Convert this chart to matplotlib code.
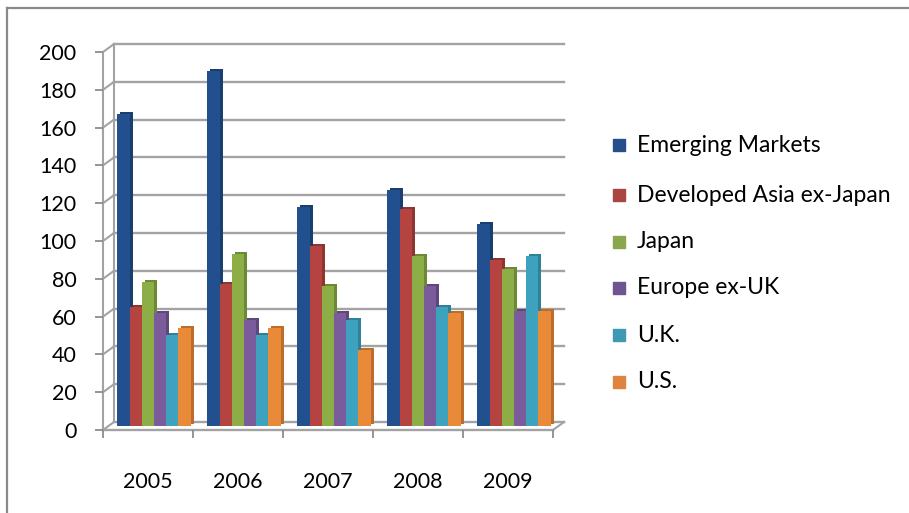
import matplotlib
matplotlib.use("Agg")
import matplotlib.pyplot as plt
from matplotlib.transforms import offset_copy
from matplotlib.patches import Rectangle
import numpy as np

years = ["2005", "2006", "2007", "2008", "2009"]
series = ["Emerging Markets", "Developed Asia ex-Japan", "Japan", "Europe ex-UK", "U.K.", "U.S."]
emerging = [165, 188, 116, 125, 107]
dev_asia = [63, 75, 95, 115, 88]
japan = [76, 91, 74, 90, 83]
europe = [60, 56, 60, 74, 61]
uk = [48, 48, 56, 63, 90]
us = [52, 52, 40, 60, 61]
values = [emerging, dev_asia, japan, europe, uk, us]
yticks = list(range(0, 201, 20))

face_colors = ["#22508F", "#B5433F", "#8DAE47", "#7A5B9B", "#3DA2BE", "#E98A38"]
side_colors = ["#1A3E70", "#8E3431", "#6C8A35", "#5F4779", "#2F8099", "#BC6D2B"]
legend_colors = ["#254E8A", "#A94643", "#8AA64E", "#705490", "#4099B3", "#DE8340"]

W, H = 909, 513
fig = plt.figure(figsize=(W / 100, H / 100), dpi=100)
plt.rcParams['font.family'] = ['Lato', 'DejaVu Sans']

x0, x1 = 103, 553
y0, y1 = 430, 52
ax = fig.add_axes([x0 / W, (H - y0) / H, (x1 - x0) / W, (y0 - y1) / H])
ax.set_xlim(-0.5, 4.5)
ax.set_ylim(0, 200)
ax.patch.set_visible(False)
for s in ax.spines.values():
    s.set_visible(False)

grid_c = "#A3A3A3"
back = offset_copy(ax.transData, fig=fig, x=11, y=8, units='dots')
# back-wall gridlines
for v in yticks:
    ax.plot([-0.5, 4.5], [v, v], color=grid_c, lw=1.7, transform=back, clip_on=False, zorder=1)
# left wall diagonals (front axis -> back wall)
dxd = 11 / ((x1 - x0) / 5.0)
dyd = 8 / ((y0 - y1) / 200.0)
for v in yticks:
    ax.plot([-0.5, -0.5 + dxd], [v, v + dyd], color=grid_c, lw=1.5, clip_on=False, zorder=1)
# back vertical edge
ax.plot([-0.5, -0.5], [0, 200], color=grid_c, lw=1.5, transform=back, clip_on=False, zorder=1)
# front vertical axis
ax.plot([-0.5, -0.5], [0, 200], color=grid_c, lw=1.5, clip_on=False, zorder=1)
# floor front edge and right diagonal
ax.plot([-0.5, 4.5], [0, 0], color=grid_c, lw=1.7, clip_on=False, zorder=1)
ax.plot([4.5, 4.5 + dxd], [0, dyd], color=grid_c, lw=1.5, clip_on=False, zorder=1)

# bars
n = len(series)
bw = 0.136
xs = np.arange(len(years))
mid = offset_copy(ax.transData, fig=fig, x=6, y=4, units='dots')
side = offset_copy(ax.transData, fig=fig, x=9, y=6, units='dots')
for i, (vals, fc, sc) in enumerate(zip(values, face_colors, side_colors)):
    pos = xs + (i - (n - 1) / 2) * bw
    ax.bar(pos, vals, width=bw, color=sc, transform=side, zorder=2 + i * 0.1, clip_on=False, linewidth=0)
for i, (vals, fc, sc) in enumerate(zip(values, face_colors, side_colors)):
    pos = xs + (i - (n - 1) / 2) * bw
    ax.bar(pos, vals, width=bw, color=fc, transform=mid, zorder=3 + i * 0.1, clip_on=False, linewidth=0,
           label=series[i])

# ticks
ax.set_yticks(yticks)
ax.set_yticklabels([str(v) for v in yticks])
ax.tick_params(axis='y', length=6, width=1.3, color="#8C8C8C", pad=13, labelsize=15.5, labelcolor="black")
ax.set_xticks(np.arange(-0.5, 5, 1.0))
ax.set_xticklabels([])
ax.set_xticks(xs, minor=True)
ax.set_xticklabels(years, minor=True)
ax.tick_params(axis='x', which='major', length=6, width=1.3, color="#8C8C8C")
ax.tick_params(axis='x', which='minor', length=0, pad=30, labelsize=15.5, labelcolor="black")

# legend (manual, figure pixels)
rows = [145, 195, 242, 288, 335, 382]
for lab, col, ry in zip(series, legend_colors, rows):
    fig.patches.append(Rectangle((613 / W, (H - ry - 6) / H), 12 / W, 12 / H,
                                 transform=fig.transFigure, color=col, figure=fig))
    fig.text(637 / W, (H - ry) / H, lab, fontsize=16.5, va='center', ha='left', color="black")

# chart border (top and left only)
fig.add_artist(plt.Line2D([7 / W, 1], [(H - 8) / H, (H - 8) / H], transform=fig.transFigure, color="#8A8A8A", lw=1.6))
fig.add_artist(plt.Line2D([7 / W, 7 / W], [0, (H - 8) / H], transform=fig.transFigure, color="#8A8A8A", lw=1.6))

fig.savefig("out.png", dpi=100)
